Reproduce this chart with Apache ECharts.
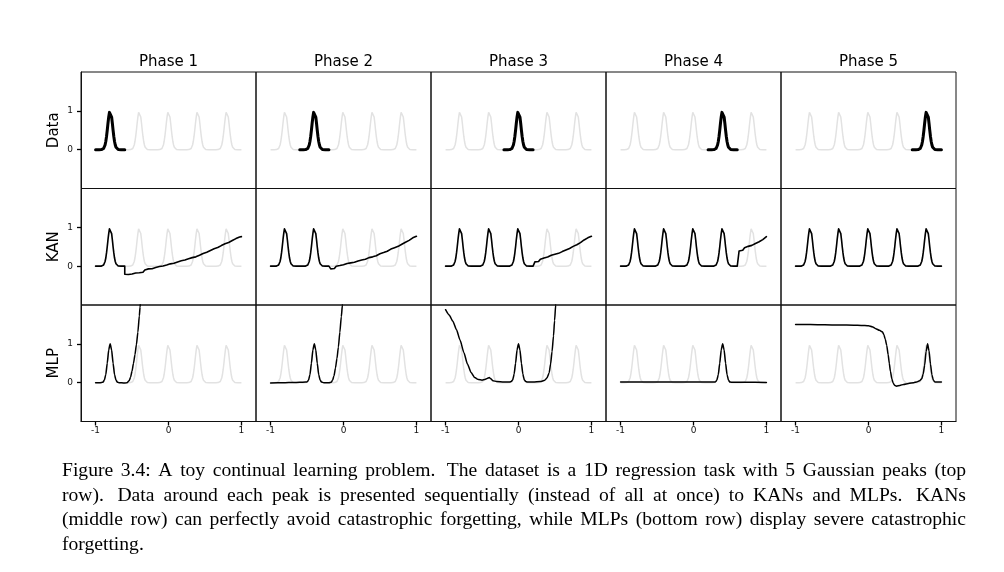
<!DOCTYPE html>
<html><head><meta charset="utf-8">
<script src="https://cdn.jsdelivr.net/npm/echarts@6/dist/echarts.min.js"></script>
<style>html,body{margin:0;padding:0;background:#fff}#c{width:1004px;height:572px}</style>
</head><body><div id="c"></div><script>
const phaseTitles = ['Phase 1','Phase 2','Phase 3','Phase 4','Phase 5'];
const rowLabels = ['Data','KAN','MLP'];
const xTicks = [-1,0,1];
const yTicks = [0,1];
const peakCenters = [-0.8,-0.4,0,0.4,0.8];
const peakDx = [-0.2,-0.15,-0.12,-0.11,-0.1,-0.09,-0.08,-0.07,-0.06,-0.05,-0.04,-0.03,-0.02,-0.01,0,0.01,0.02,0.03,0.04,0.05,0.06,0.07,0.08,0.09,0.1,0.11,0.12,0.15,0.2];
const peakY = [0,0,0.002,0.005,0.013,0.03,0.062,0.12,0.21,0.34,0.5,0.68,0.84,0.96,1,0.96,0.84,0.68,0.5,0.34,0.21,0.12,0.062,0.03,0.013,0.005,0.002,0,0];

const kanLearnedUpTo = [-0.6,-0.2,0.2,0.6,1.0];
const kanTailStart = [-0.6,-0.175,0.225,0.625];
const kanTailStep = 0.025;
const kanTail1 = [-0.21,-0.18,-0.215,-0.18,-0.2,-0.15,-0.175,-0.13,-0.17,-0.125,-0.155,-0.1,-0.12,-0.07,-0.105,-0.065,-0.09,-0.035,-0.06,-0.01,-0.04,0.005,-0.025,0.03,0.005,0.06,0.03,0.075,0.05,0.11,0.09,0.14,0.11,0.16,0.13,0.19,0.17,0.22,0.19,0.24,0.215,0.28,0.265,0.325,0.3,0.36,0.34,0.405,0.39,0.45,0.425,0.48,0.46,0.53,0.515,0.575,0.55,0.61,0.59,0.66,0.65,0.71,0.69,0.75,0.76];
const kanTail2 = [-0.07,-0.03,-0.06,0.0,-0.03,0.015,-0.015,0.035,0.01,0.07,0.04,0.085,0.05,0.1,0.08,0.135,0.11,0.16,0.125,0.18,0.16,0.22,0.19,0.24,0.215,0.27,0.255,0.32,0.3,0.35,0.325,0.385,0.37,0.44,0.42,0.475,0.45,0.51,0.5,0.565,0.55,0.615,0.6,0.665,0.66,0.73,0.72,0.77];
const kanTail3 = [0.11,0.145,0.12,0.18,0.16,0.21,0.18,0.235,0.215,0.28,0.255,0.305,0.275,0.33,0.315,0.375,0.355,0.415,0.39,0.455,0.44,0.51,0.49,0.55,0.535,0.605,0.6,0.675,0.665,0.73,0.72,0.77];
const kanTail4 = [0.39,0.44,0.41,0.475,0.46,0.51,0.48,0.535,0.52,0.585,0.565,0.63,0.615,0.685,0.69,0.76];

const mlpPhase1 = [[-1,0],[-0.95,0],[-0.92,0.002],[-0.9,0.013],[-0.88,0.06],[-0.86,0.21],[-0.84,0.5],[-0.82,0.84],[-0.8,1],[-0.78,0.84],[-0.76,0.5],[-0.74,0.21],[-0.72,0.06],[-0.7,0.013],[-0.68,0.0],[-0.64,-0.005],[-0.6,-0.01],[-0.57,0.0],[-0.54,0.05],[-0.52,0.14],[-0.5,0.3],[-0.48,0.5],[-0.46,0.72],[-0.44,0.98],[-0.42,1.3],[-0.40,1.72],[-0.39,1.95],[-0.38,2.15],[-0.36,2.6]];
const mlpPhase2 = [[-1,-0.01],[-0.9,-0.005],[-0.8,0.0],[-0.7,0.005],[-0.6,0.01],[-0.52,0.015],[-0.5,0.02],[-0.48,0.06],[-0.46,0.21],[-0.44,0.5],[-0.42,0.84],[-0.4,1],[-0.38,0.84],[-0.36,0.5],[-0.34,0.21],[-0.32,0.06],[-0.3,0.015],[-0.27,0.0],[-0.24,-0.005],[-0.2,-0.005],[-0.17,0.01],[-0.15,0.06],[-0.13,0.18],[-0.11,0.38],[-0.09,0.62],[-0.07,0.92],[-0.05,1.3],[-0.03,1.7],[-0.015,2.0],[0.0,2.35]];
const mlpPhase3 = [[-1.0,1.88],[-0.95,1.74],[-0.9,1.58],[-0.85,1.36],[-0.8,1.09],[-0.75,0.78],[-0.7,0.48],[-0.65,0.26],[-0.6,0.13],[-0.55,0.08],[-0.5,0.065],[-0.46,0.08],[-0.43,0.11],[-0.40,0.13],[-0.38,0.10],[-0.35,0.05],[-0.3,0.03],[-0.2,0.02],[-0.12,0.02],[-0.1,0.03],[-0.08,0.07],[-0.06,0.22],[-0.04,0.5],[-0.02,0.84],[0,1],[0.02,0.84],[0.04,0.5],[0.06,0.22],[0.08,0.07],[0.1,0.03],[0.12,0.02],[0.2,0.02],[0.3,0.03],[0.36,0.06],[0.39,0.12],[0.42,0.25],[0.44,0.48],[0.46,0.8],[0.48,1.2],[0.495,1.6],[0.51,2.0],[0.52,2.3]];
const mlpPhase4 = [[-1,0.02],[-0.5,0.02],[0,0.015],[0.2,0.015],[0.28,0.015],[0.3,0.02],[0.32,0.06],[0.34,0.21],[0.36,0.5],[0.38,0.84],[0.4,1],[0.42,0.84],[0.44,0.5],[0.46,0.21],[0.48,0.06],[0.5,0.015],[0.54,0.01],[0.7,0.01],[1.0,0.005]];
const mlpPhase5 = [[-1,1.5],[-0.8,1.495],[-0.6,1.49],[-0.4,1.485],[-0.2,1.48],[-0.1,1.475],[0,1.465],[0.05,1.44],[0.1,1.39],[0.15,1.35],[0.19,1.31],[0.21,1.24],[0.23,1.12],[0.25,0.96],[0.27,0.72],[0.285,0.5],[0.3,0.3],[0.32,0.1],[0.34,-0.02],[0.36,-0.07],[0.385,-0.09],[0.43,-0.07],[0.48,-0.045],[0.55,-0.02],[0.62,0.0],[0.66,0.02],[0.7,0.05],[0.73,0.1],[0.75,0.22],[0.77,0.45],[0.79,0.8],[0.81,1.0],[0.83,0.82],[0.85,0.48],[0.87,0.2],[0.89,0.06],[0.91,0.02],[0.95,0.015],[1.0,0.015]];
const mlpCurves = [mlpPhase1,mlpPhase2,mlpPhase3,mlpPhase4,mlpPhase5];
const kanTails = [kanTail1,kanTail2,kanTail3,kanTail4];

const captionLines = [
 'Figure 3.4: A toy continual learning problem. The dataset is a 1D regression task with 5 Gaussian peaks (top',
 'row). Data around each peak is presented sequentially (instead of all at once) to KANs and MLPs. KANs',
 '(middle row) can perfectly avoid catastrophic forgetting, while MLPs (bottom row) display severe catastrophic',
 'forgetting.'
];

// --- build curves
const r6 = v => Math.round(v*1e6)/1e6;
const fullCurve = [];
peakCenters.forEach(c => {
  peakDx.forEach((d,i) => {
    const x = r6(c+d);
    if (fullCurve.length && fullCurve[fullCurve.length-1][0] === x) return;
    fullCurve.push([x, peakY[i]]);
  });
});
const peakSegment = c => peakDx.map((d,i)=>[r6(c+d), peakY[i]]);
function kanCurve(k){
  const pts = fullCurve.filter(p => p[0] <= kanLearnedUpTo[k] + 1e-9);
  if (k < 4) kanTails[k].forEach((y,i)=>pts.push([r6(kanTailStart[k]+i*kanTailStep), y]));
  return pts;
}

const L0 = 81, T0 = 72, W = 175, H = 116.5;
const grids=[], xAxes=[], yAxes=[], series=[];
for (let r=0;r<3;r++){
  for (let c=0;c<5;c++){
    const gi = r*5+c;
    grids.push({left:L0+W*c, top:T0+H*r, width:W, height:H, show:true, borderColor:'#111', borderWidth:1, backgroundColor:'rgba(0,0,0,0)'});
    xAxes.push({gridIndex:gi, type:'value', min:-1.2, max:1.2, position:'bottom',
      axisLine:{show:r===2, onZero:false, lineStyle:{color:'#111', width:1}}, splitLine:{show:false},
      axisTick:{show:r===2, customValues:xTicks, length:4, lineStyle:{color:'#000', width:1.3}},
      axisLabel:{show:r===2, customValues:xTicks, fontSize:9, color:'#111', margin:5, fontFamily:'DejaVu Sans', formatter:v=>String(v)}});
    yAxes.push({gridIndex:gi, type:'value', min:-1, max:2, position:'left',
      axisLine:{show:c===0, onZero:false, lineStyle:{color:'#111', width:1}}, splitLine:{show:false},
      axisTick:{show:c===0, customValues:yTicks, length:4, lineStyle:{color:'#000', width:1.3}},
      axisLabel:{show:c===0, customValues:yTicks, fontSize:9, color:'#111', margin:8, fontFamily:'DejaVu Sans', formatter:v=>String(v)}});
    series.push({type:'line', xAxisIndex:gi, yAxisIndex:gi, data:fullCurve, symbol:'none', silent:true, z:1,
      lineStyle:{color:'#e2e2e2', width:1.5}});
    let black, width=1.5, smooth=false;
    if (r===0){ black = peakSegment(peakCenters[c]); width=3; }
    else if (r===1){ black = kanCurve(c); width = 1.6; }
    else { black = mlpCurves[c]; smooth=0.2; }
    series.push({type:'line', xAxisIndex:gi, yAxisIndex:gi, data:black, symbol:'none', silent:true, z:3,
      smooth:smooth, smoothMonotone: smooth? 'x': undefined, clip:true,
      lineStyle:{color:'#000', width:width, join:'round', cap:'round'}});
  }
}

const graphic = [];
phaseTitles.forEach((t,c)=>graphic.push({type:'text', x:L0+W*c+W/2, y:62,
  style:{text:t, font:'15px "DejaVu Sans"', fill:'#000', align:'center', textAlign:'center', verticalAlign:'middle', textVerticalAlign:'middle'}}));
rowLabels.forEach((t,r)=>graphic.push({type:'text', x:54, y:T0+H*r+H/2, rotation:Math.PI/2,
  style:{text:t, font:'15px "DejaVu Sans"', fill:'#000', align:'center', textAlign:'center', verticalAlign:'middle', textVerticalAlign:'middle'}}));

// caption, justified
const capFont = '19.6px "Liberation Serif"';
const cv = document.createElement('canvas').getContext('2d');
cv.font = capFont;
const capLeft = 62, capRight = 966, capY = [471,496,520,545];
captionLines.forEach((line,li)=>{
  const words = line.split(' ');
  const widths = words.map(w=>cv.measureText(w).width);
  const total = widths.reduce((a,b)=>a+b,0);
  const last = li === captionLines.length-1;
  const weights = words.slice(0,-1).map(w => /[.]$/.test(w) ? 1.5 : 1);
  const wsum = weights.reduce((a,b)=>a+b,0);
  const unit = last ? cv.measureText(' ').width : (capRight-capLeft-total)/wsum;
  let x = capLeft;
  words.forEach((w,i)=>{
    graphic.push({type:'text', x:x, y:capY[li], style:{text:w, font:capFont, fill:'#000', align:'left', textAlign:'left', verticalAlign:'middle', textVerticalAlign:'middle'}});
    x += widths[i] + (i<weights.length ? weights[i]*unit : 0);
  });
});

const chart = echarts.init(document.getElementById('c'), null, {renderer:'canvas'});
chart.setOption({animation:false, backgroundColor:'#fff', grid:grids, xAxis:xAxes, yAxis:yAxes, series:series, graphic:graphic});
</script></body></html>
